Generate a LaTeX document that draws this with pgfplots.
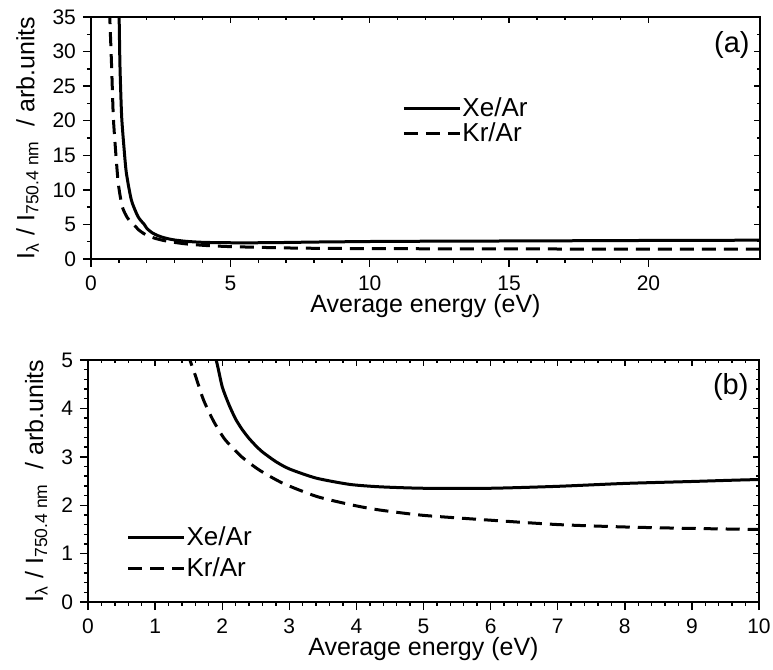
\documentclass[border=0pt]{standalone}
\usepackage{pgfplots}
\pgfplotsset{compat=1.18}
\usepackage{pgfplotstable}
\usepackage{fontspec}
\setmainfont{Liberation Sans}

\pgfplotstableread{
x y
1.00 36
1.01 34.8
1.04 27.8
1.10 20.6
1.19 15.8
1.27 12.4
1.45 8.5
1.69 6.1
1.91 5.0
2.00 4.45
2.10 4.08
2.20 3.78
2.30 3.56
2.40 3.38
2.50 3.23
2.60 3.10
2.80 2.90
3.00 2.75
3.40 2.56
3.90 2.43
4.35 2.38
5.00 2.35
6.00 2.35
7.00 2.39
8.00 2.45
9.00 2.49
10.0 2.53
12.0 2.57
16.0 2.62
20.0 2.68
24.0 2.72
}\xedata

\pgfplotstableread{
x y
0.67 36
0.68 34.3
0.74 27.8
0.80 20.6
0.88 15.8
0.98 10.9
1.12 7.6
1.30 6.0
1.52 5.0
1.60 4.68
1.72 4.18
1.87 3.74
2.04 3.36
2.29 3.0
2.56 2.72
2.91 2.45
3.41 2.18
3.95 2.0
4.35 1.9
5.0 1.79
6.0 1.69
7.0 1.60
8.0 1.55
9.0 1.52
10.0 1.50
12.0 1.48
16.0 1.45
20.0 1.43
24.0 1.42
}\krdata

\pgfplotsset{
  base/.style={
    scale only axis,
    axis line style={line width=0.9pt},
    /pgf/number format/assume math mode=true,
    tick label style={font=\fontsize{10.5}{12}\selectfont},
    label style={font=\fontsize{12.5}{14}\selectfont},
    every tick/.style={black, line width=0.7pt},
  },
  outer/.style={
    base,
    xtick pos=left, ytick pos=left,
    tick align=outside,
    major tick length=4pt, minor tick length=2pt,
    xticklabel style={yshift=-1pt},
    xlabel shift=-5pt,
  },
  inner/.style={
    base,
    xtick pos=right, ytick pos=right,
    tick align=inside,
    major tick length=3pt, minor tick length=1.5pt,
    xticklabels={}, yticklabels={},
  },
  leg/.style={
    legend style={draw=none, fill=none, font=\fontsize{13}{14}\selectfont,
      inner sep=0pt, row sep=#1, anchor=north west, legend cell align=left,
      nodes={inner sep=0.5pt, text height=9pt, text depth=1.5pt}},
    legend image code/.code={\draw[##1] (0pt,0pt) -- (28pt,0pt);},
  },
  xe/.style={black, line width=1.5pt, smooth, tension=0.4},
  kr/.style={black, line width=1.5pt, dash pattern=on 7pt off 4pt, smooth, tension=0.4},
}

\newcommand{\ylab}{I\textsubscript{λ} / I\textsubscript{750.4 nm}\ \ / arb.units}

\begin{document}
\begin{tikzpicture}
\path[use as bounding box] (0,0) rectangle (386.5pt,335pt);

% ---- panel (a) ----
\begin{axis}[outer, leg=1pt,
  at={(45.5pt,205.5pt)}, anchor=south west,
  width=334.5pt, height=121pt,
  xmin=0, xmax=24, ymin=0, ymax=35,
  xtick={0,5,...,20}, ytick={0,5,...,35},
  minor x tick num=4, minor y tick num=1,
  xlabel={Average energy (eV)}, ylabel={\ylab},
  legend style={at={(rel axis cs:0.465,0.67)}},
]
\addplot[xe] table {\xedata};
\addlegendentry{Xe/Ar}
\addplot[kr] table {\krdata};
\addlegendentry{Kr/Ar}
\node[font=\fontsize{14.5}{16}\selectfont] at (rel axis cs:0.958,0.884) {(a)};
\end{axis}
\begin{axis}[inner,
  at={(45.5pt,205.5pt)}, anchor=south west,
  width=334.5pt, height=121pt,
  xmin=0, xmax=24, ymin=0, ymax=35,
  xtick={0,5,...,20}, ytick={0,5,...,35},
  minor x tick num=4, minor y tick num=1,
]
\end{axis}

% ---- panel (b) ----
\begin{axis}[outer, leg=4pt,
  at={(44pt,34pt)}, anchor=south west,
  width=335.5pt, height=121pt,
  xmin=0, xmax=10, ymin=0, ymax=5,
  xtick={0,1,...,10}, ytick={0,1,...,5},
  minor x tick num=4, minor y tick num=4,
  xlabel={Average energy (eV)}, ylabel={\ylab},
  legend style={at={(rel axis cs:0.057,0.315)}},
]
\addplot[xe] table {\xedata};
\addlegendentry{Xe/Ar}
\addplot[kr] table {\krdata};
\addlegendentry{Kr/Ar}
\node[font=\fontsize{14.5}{16}\selectfont] at (rel axis cs:0.958,0.888) {(b)};
\end{axis}
\begin{axis}[inner,
  at={(44pt,34pt)}, anchor=south west,
  width=335.5pt, height=121pt,
  xmin=0, xmax=10, ymin=0, ymax=5,
  xtick={0,1,...,10}, ytick={0,1,...,5},
  minor x tick num=4, minor y tick num=4,
]
\end{axis}
\end{tikzpicture}
\end{document}
